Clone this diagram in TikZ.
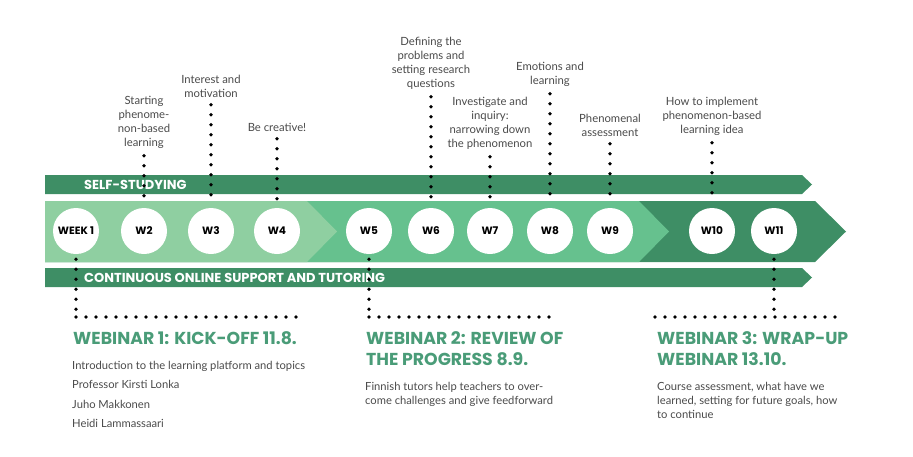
\documentclass[tikz,border=0pt]{standalone}
\usepackage{fontspec}
\setmainfont{Lato}
\newfontfamily\headfont{Poppins}
\usepackage{tikz}
\usetikzlibrary{
  positioning,
  calc
}
\definecolor{BarGreen}{HTML}{3E8E65}
\definecolor{PhaseLight}{HTML}{8FCFA1}
\definecolor{PhaseMid}{HTML}{66C18E}
\definecolor{TitleGreen}{HTML}{4A9C78}
\definecolor{TextGray}{HTML}{4A4A4A}
\tikzset{
  week/.style={
    circle,
    fill=white,
    minimum size=46pt,
    inner sep=0pt,
    font=\headfont\bfseries\fontsize{10.6}{12}\selectfont
  },
  topic/.style={
    align=center,
    inner sep=1pt,
    text=TextGray,
    font=\fontsize{11.3}{14}\selectfont
  },
  dots/.style={
    line width=3.8pt,
    line cap=round,
    dash pattern=on 0pt off 10pt
  },
  barlabel/.style={
    anchor=west,
    inner sep=0pt,
    text=white,
    font=\headfont\bfseries\fontsize{13}{14}\selectfont
  },
  webinar/.style={
    anchor=north west,
    align=left,
    inner sep=0pt,
    text=TitleGreen,
    font=\headfont\bfseries\fontsize{17.3}{21}\selectfont
  },
  details/.style={
    anchor=north west,
    align=left,
    inner sep=0pt,
    text=TextGray,
    font=\fontsize{11.2}{14}\selectfont
  }
}

\begin{document}
\begin{tikzpicture}[
  x=1pt,
  y=-1pt
]

  \useasboundingbox (0,0) rectangle (913,456);

  % bands
  \fill[BarGreen] (45,175) -- (802,175) -- (812,184.5) -- (802,194) -- (45,194) -- cycle;
  \fill[BarGreen] (45,268) -- (802,268) -- (812,277.5) -- (802,287) -- (45,287) -- cycle;
  \fill[BarGreen] (45,201) -- (815,201) -- (846,231.5) -- (815,262) -- (45,262) -- cycle;
  \fill[PhaseMid] (45,201) -- (639,201) -- (669,231.5) -- (639,262) -- (45,262) -- cycle;
  \fill[PhaseLight] (45,201) -- (307,201) -- (337,231.5) -- (307,262) -- (45,262) -- cycle;

  \node[barlabel] (self) at (84,185) {SELF-STUDYING};
  \node[barlabel] (online) at (84,278) {CONTINUOUS ONLINE SUPPORT AND TUTORING};

  % weeks
  \node[week] (w1) at (76,231) {WEEK 1};
  \node[week] (w2) at (144,231) {W2};
  \node[week] (w3) at (211,231) {W3};
  \node[week] (w4) at (277,231) {W4};
  \node[week] (w5) at (369,231) {W5};
  \node[week] (w6) at (431,231) {W6};
  \node[week] (w7) at (490,231) {W7};
  \node[week] (w8) at (550,231) {W8};
  \node[week] (w9) at (610,231) {W9};
  \node[week] (w10) at (712,231) {W10};
  \node[week] (w11) at (774,231) {W11};

  % topics
  \node[topic, above=58pt of w2] (t2) {Starting\\phenome-\\non-based\\learning};
  \node[topic, above=109pt of w3] (t3) {Interest and\\motivation};
  \node[topic, above=75pt of w4] (t4) {Be creative!};
  \node[topic, above=117pt of w6] (t6) {Defining the\\problems and\\setting research\\questions};
  \node[topic, above=57pt of w7] (t7) {Investigate and\\inquiry:\\narrowing down\\the phenomenon};
  \node[topic, above=120pt of w8] (t8) {Emotions and\\learning};
  \node[topic, above=70pt of w9] (t9) {Phenomenal\\assessment};
  \node[topic, above=71pt of w10] (t10) {How to implement\\phenomenon-based\\learning idea};

  \foreach \n in {2,3,4,6,7,8,9,10} {
    \draw[dots, shorten <=6pt, shorten >=7pt] (t\n) -- (w\n);
  }

  % webinars
  \coordinate (r1a) at (76,317);
  \coordinate (r1b) at (306,317);
  \coordinate (r2a) at (369,317);
  \coordinate (r2b) at (559,317);
  \coordinate (r3a) at (655,317);
  \coordinate (r3b) at (845,317);

  \draw[dots, shorten <=5pt] (w1) -- (w1 |- r1a);
  \draw[dots, shorten <=5pt] (w5) -- (w5 |- r2a);
  \draw[dots, shorten <=5pt] (w11) -- (w11 |- r3a);
  \draw[dots] (r1a) -- (r1b);
  \draw[dots] (r2a) -- (r2b);
  \draw[dots] (r3a) -- (r3b);

  \node[webinar] (web1) at (73,331) {WEBINAR 1: KICK-OFF 11.8.};
  \node[webinar] (web2) at (366,331) {WEBINAR 2: REVIEW OF\\THE PROGRESS 8.9.};
  \node[webinar] (web3) at (657,331) {WEBINAR 3: WRAP-UP\\WEBINAR 13.10.};

  \node[details, font=\fontsize{11.2}{19.5}\selectfont] (info1) at (72,361) {Introduction to the learning platform and topics\\Professor Kirsti Lonka\\Juho Makkonen\\Heidi Lammassaari};
  \node[details] (info2) at (365,382) {Finnish tutors help teachers to over-\\come challenges and give feedforward};
  \node[details] (info3) at (657,382) {Course assessment, what have we\\learned, setting for future goals, how\\to continue};

\end{tikzpicture}
\end{document}
